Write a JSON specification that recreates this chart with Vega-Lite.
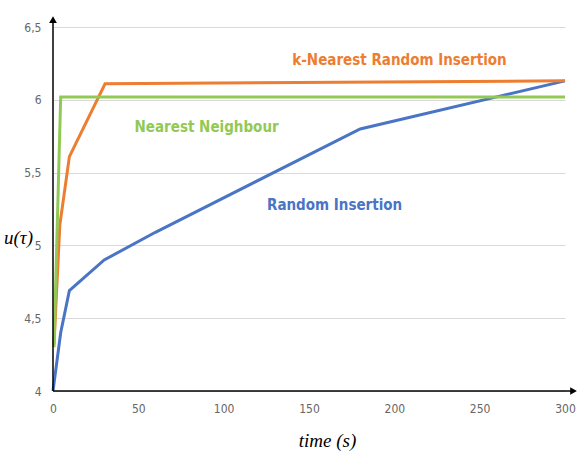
{
  "$schema": "https://vega.github.io/schema/vega-lite/v6.json",
  "autosize": "none",
  "width": 512,
  "height": 364,
  "padding": {"left": 53, "top": 27, "right": 19, "bottom": 64},
  "background": "white",
  "config": {"view": {"stroke": null}},
  "layer": [
    {
      "data": {"values": [
        {"series": "Random Insertion", "t": 0, "u": 4.0},
        {"series": "Random Insertion", "t": 4.5, "u": 4.4},
        {"series": "Random Insertion", "t": 9.6, "u": 4.69},
        {"series": "Random Insertion", "t": 30, "u": 4.9},
        {"series": "Random Insertion", "t": 60, "u": 5.09},
        {"series": "Random Insertion", "t": 180, "u": 5.8},
        {"series": "Random Insertion", "t": 300, "u": 6.13},
        {"series": "k-Nearest Random Insertion", "t": 0.6, "u": 4.32},
        {"series": "k-Nearest Random Insertion", "t": 4, "u": 5.14},
        {"series": "k-Nearest Random Insertion", "t": 9.6, "u": 5.61},
        {"series": "k-Nearest Random Insertion", "t": 30.5, "u": 6.11},
        {"series": "k-Nearest Random Insertion", "t": 300, "u": 6.13},
        {"series": "Nearest Neighbour", "t": 0.6, "u": 4.3},
        {"series": "Nearest Neighbour", "t": 4.5, "u": 6.02},
        {"series": "Nearest Neighbour", "t": 300, "u": 6.02}
      ]},
      "mark": {"type": "line", "strokeWidth": 3},
      "encoding": {
        "x": {
          "field": "t", "type": "quantitative",
          "scale": {"domain": [0, 300], "nice": false},
          "axis": {
            "values": [0, 50, 100, 150, 200, 250, 300],
            "grid": false, "domain": false, "ticks": false, "labelFlush": false,
            "labelFont": "DejaVu Sans Condensed, Roboto, sans-serif", "labelFontSize": 12, "labelColor": "#666666",
            "labelPadding": 12,
            "title": "time (s)", "titleFont": "Liberation Serif", "titleFontStyle": "italic",
            "titleFontWeight": "normal", "titleFontSize": 19, "titleColor": "#000000",
            "titleX": 274, "titleY": 49, "titleBaseline": "middle"
          }
        },
        "y": {
          "field": "u", "type": "quantitative",
          "scale": {"domain": [4, 6.5], "nice": false, "zero": false},
          "axis": {
            "values": [4, 4.5, 5, 5.5, 6, 6.5],
            "grid": true, "gridColor": "#d9d9d9", "gridWidth": 1,
            "domain": false, "ticks": false, "labelFlush": false,
            "labelExpr": "replace(toString(datum.value), '.', ',')",
            "labelFont": "DejaVu Sans Condensed, Roboto, sans-serif", "labelFontSize": 12, "labelColor": "#666666",
            "labelPadding": 12,
            "title": "u(τ)", "titleFont": "Liberation Serif", "titleFontStyle": "italic",
            "titleFontWeight": "normal", "titleFontSize": 19, "titleColor": "#000000",
            "titleAngle": 0, "titleX": -35, "titleY": 210, "titleAlign": "center", "titleBaseline": "middle"
          }
        },
        "color": {
          "field": "series", "type": "nominal", "legend": null,
          "scale": {
            "domain": ["Random Insertion", "k-Nearest Random Insertion", "Nearest Neighbour"],
            "range": ["#4a74c4", "#ed7d31", "#92c955"]
          }
        }
      }
    },
    {
      "data": {"values": [
        {"axis": "x", "t": 0, "u": 4, "t2": 305, "u2": 4},
        {"axis": "y", "t": 0, "u": 4, "t2": 0, "u2": 6.55}
      ]},
      "mark": {"type": "rule", "color": "#000000", "strokeWidth": 1.5},
      "encoding": {
        "x": {"field": "t", "type": "quantitative"},
        "y": {"field": "u", "type": "quantitative"},
        "x2": {"field": "t2"},
        "y2": {"field": "u2"}
      }
    },
    {
      "data": {"values": [
        {"t": 305, "u": 4, "shape": "triangle-right"},
        {"t": 0, "u": 6.55, "shape": "triangle-up"}
      ]},
      "mark": {"type": "point", "filled": true, "color": "#000000", "size": 60, "opacity": 1},
      "encoding": {
        "x": {"field": "t", "type": "quantitative"},
        "y": {"field": "u", "type": "quantitative"},
        "shape": {"field": "shape", "type": "nominal", "scale": null, "legend": null}
      }
    },
    {
      "data": {"values": [
        {"label": "k-Nearest Random Insertion", "t": 203, "u": 6.27, "c": "#ed7d31"},
        {"label": "Nearest Neighbour", "t": 90, "u": 5.81, "c": "#92c955"},
        {"label": "Random Insertion", "t": 165, "u": 5.28, "c": "#4a74c4"}
      ]},
      "mark": {"type": "text", "font": "DejaVu Sans Condensed, Roboto, sans-serif", "fontWeight": "bold", "fontSize": 15, "align": "center", "baseline": "middle"},
      "encoding": {
        "x": {"field": "t", "type": "quantitative"},
        "y": {"field": "u", "type": "quantitative"},
        "text": {"field": "label"},
        "color": {"field": "c", "type": "nominal", "scale": null, "legend": null}
      }
    }
  ]
}
